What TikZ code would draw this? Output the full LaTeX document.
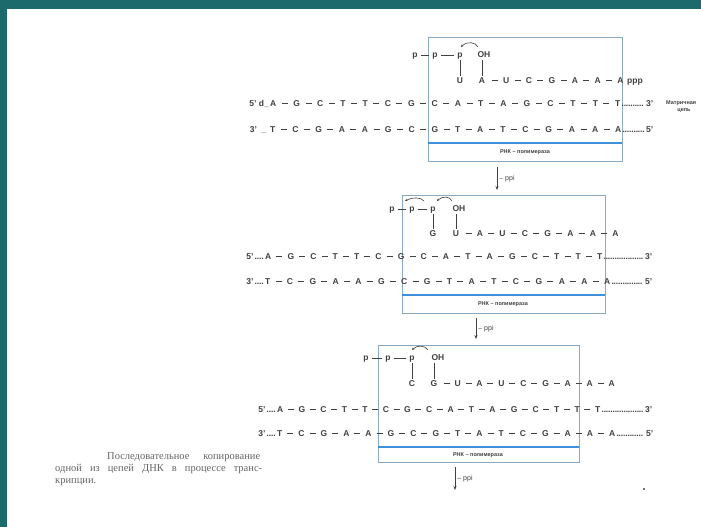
\documentclass[tikz,border=0pt]{standalone}
\usepackage{fontspec}
\setmainfont{Liberation Sans}
\newfontfamily\capfont{Liberation Serif}
\usetikzlibrary{arrows.meta,positioning}

\definecolor{slidebg}{HTML}{1D6A6C}
\definecolor{boxline}{HTML}{8AAAC4}
\definecolor{polblue}{HTML}{3F8FDB}
\definecolor{ink}{HTML}{404040}

% a strand of bases spread over a fixed width
\newcommand{\strand}[2]{\makebox[#1][s]{#2}}
\newcommand{\bd}{\rule[2.7pt]{6pt}{0.75pt}}
\newcommand{\dotrun}[1]{\makebox[#1]{\leaders\hbox to 2.2pt{\hss.\hss}\hfill}}

\tikzset{
  nuc/.style={inner sep=1pt, text height=6.5pt, text depth=1.8pt, font=\fontsize{8.5}{10}\selectfont\bfseries, text=ink},
  strandrow/.style={inner sep=0pt, anchor=base west, font=\fontsize{8.5}{10}\selectfont\bfseries, text=ink},
  polbox/.style={draw=boxline, line width=0.7pt},
  polline/.style={draw=polblue, line width=1.6pt},
  pollabel/.style={inner sep=0pt, font=\fontsize{5.5}{6}\selectfont\bfseries, text=ink},
  bond/.style={draw=ink, line width=0.75pt, shorten <=2.5pt, shorten >=2.5pt},
  hook/.style={-{Stealth[length=2.5pt,width=2.2pt]}, line width=0.6pt, draw=ink},
  ppiarrow/.style={-{Stealth[length=4pt,width=3pt]}, line width=0.8pt, draw=ink},
  ppilabel/.style={inner sep=2pt, font=\fontsize{7}{8}\selectfont, text=ink},
}

\begin{document}
\begin{tikzpicture}[x=1pt, y=-1pt]
    % Slide and page
    \fill[slidebg] (0,0) rectangle (701,527);
    \fill[white] (7,9) rectangle (701,527);
    \useasboundingbox (0,0) rectangle (701,527);

    % ===== Step 1 =====
    \draw[polbox] (428,37) rectangle (622,161);
    \draw[polline] (428,143) -- (622,143);
    \node[pollabel] (lab_s1) at (525,152) {РНК -- полимераза};

    % Triphosphate end
    \node[nuc] (p1_s1) at (415,55) {p};
    \node[nuc] (p2_s1) at (435,55) {p};
    \node[nuc] (p3_s1) at (460,55) {p};
    \node[nuc] (oh_s1) at (484,55) {OH};
    \draw[bond] (p1_s1) -- (p2_s1);
    \draw[bond] (p2_s1) -- (p3_s1);

    % RNA
    \node[nuc] (r1_s1) at (460,81) {U};
    \node[nuc] (r2_s1) at (482,81) {A};
    \node[strandrow] (rna_s1) at (r2_s1.base east) {\strand{137pt}{\ \bd{} U \bd{} C \bd{} G \bd{} A \bd{} A \bd{} A}\rlap{\ \,ppp}};
    \draw[ink, line width=0.7pt] (p3_s1.south) -- (r1_s1.north);
    \draw[ink, line width=0.7pt] (oh_s1.south -| r2_s1.north) -- (r2_s1.north);
    \draw[hook] (478,47) .. controls (476,42) and (466,41) .. (461,47);

    % DNA
    \node[strandrow] (top_s1) at (270,106) {\llap{5' d\_\,}\strand{350pt}{A \bd{} G \bd{} C \bd{} T \bd{} T \bd{} C \bd{} G \bd{} C \bd{} A \bd{} T \bd{} A \bd{} G \bd{} C \bd{} T \bd{} T \bd{} T}\rlap{\,\dotrun{23pt}\,3'}};
    \node[strandrow] (bot_s1) at (270,132) {\llap{3'\ \ \_\ \,}\strand{351pt}{T \bd{} C \bd{} G \bd{} A \bd{} A \bd{} G \bd{} C \bd{} G \bd{} T \bd{} A \bd{} T \bd{} C \bd{} G \bd{} A \bd{} A \bd{} A}\rlap{\,\dotrun{22pt}\,5'}};

    % Template label
    \node[pollabel, anchor=west] (tmpl_a) at (666,103) {Матричная};
    \node[pollabel] (tmpl_b) at (684,111) {цепь};

    % Release of pyrophosphate
    \coordinate (s_s1) at (497,167);
    \coordinate (e_s1) at (497,190);
    \draw[ppiarrow] (s_s1) -- (e_s1) node[midway, right, ppilabel] (ppi_s1) {-- ppi};

    % ===== Step 2 =====
    \draw[polbox] (402,195) rectangle (605,313);
    \draw[polline] (402,295) -- (605,295);
    \node[pollabel] (lab_s2) at (503,304) {РНК -- полимераза};

    \node[nuc] (p1_s2) at (392,209) {p};
    \node[nuc] (p2_s2) at (412,209) {p};
    \node[nuc] (p3_s2) at (433,209) {p};
    \node[nuc] (oh_s2) at (459,209) {OH};
    \draw[bond] (p1_s2) -- (p2_s2);
    \draw[bond] (p2_s2) -- (p3_s2);

    \node[nuc] (r1_s2) at (433,234) {G};
    \node[nuc] (r2_s2) at (456,234) {U};
    \node[strandrow] (rna_s2) at (r2_s2.base east) {\strand{158pt}{\ \bd{} A \bd{} U \bd{} C \bd{} G \bd{} A \bd{} A \bd{} A}};
    \draw[ink, line width=0.7pt] (p3_s2.south) -- (r1_s2.north);
    \draw[ink, line width=0.7pt] (oh_s2.south -| r2_s2.north) -- (r2_s2.north);
    \draw[hook] (424,201) .. controls (421,197) and (412,197) .. (405,201);
    \draw[hook] (452,201) .. controls (450,196) and (442,196) .. (437,201);

    \node[strandrow] (top_s2) at (265,259) {\llap{5'\,\dotrun{9pt}\,}\strand{337pt}{A \bd{} G \bd{} C \bd{} T \bd{} T \bd{} C \bd{} G \bd{} C \bd{} A \bd{} T \bd{} A \bd{} G \bd{} C \bd{} T \bd{} T \bd{} T}\rlap{\,\dotrun{40pt}\,3'}};
    \node[strandrow] (bot_s2) at (265,284) {\llap{3'\,\dotrun{9pt}\,}\strand{345pt}{T \bd{} C \bd{} G \bd{} A \bd{} A \bd{} G \bd{} C \bd{} G \bd{} T \bd{} A \bd{} T \bd{} C \bd{} G \bd{} A \bd{} A \bd{} A}\rlap{\,\dotrun{32pt}\,5'}};

    \coordinate (s_s2) at (476,318);
    \coordinate (e_s2) at (476,339);
    \draw[ppiarrow] (s_s2) -- (e_s2) node[midway, right, ppilabel] (ppi_s2) {-- ppi};

    % ===== Step 3 =====
    \draw[polbox] (378,345) rectangle (579,462);
    \draw[polline] (378,447) -- (579,447);
    \node[pollabel] (lab_s3) at (478,455) {РНК -- полимераза};

    \node[nuc] (p1_s3) at (366,358) {p};
    \node[nuc] (p2_s3) at (388,358) {p};
    \node[nuc] (p3_s3) at (412,358) {p};
    \node[nuc] (oh_s3) at (438,358) {OH};
    \draw[bond] (p1_s3) -- (p2_s3);
    \draw[bond] (p2_s3) -- (p3_s3);

    \node[nuc] (r1_s3) at (412,384) {C};
    \node[nuc] (r2_s3) at (434,384) {G};
    \node[strandrow] (rna_s3) at (r2_s3.base east) {\strand{176pt}{\ \bd{} U \bd{} A \bd{} U \bd{} C \bd{} G \bd{} A \bd{} A \bd{} A}};
    \draw[ink, line width=0.7pt] (p3_s3.south) -- (r1_s3.north);
    \draw[ink, line width=0.7pt] (oh_s3.south -| r2_s3.north) -- (r2_s3.north);
    \draw[hook] (428,350) .. controls (425,345) and (417,345) .. (412,350);

    \node[strandrow] (top_s3) at (277,412) {\llap{5'\,\dotrun{9pt}\,}\strand{323pt}{A \bd{} G \bd{} C \bd{} T \bd{} T \bd{} C \bd{} G \bd{} C \bd{} A \bd{} T \bd{} A \bd{} G \bd{} C \bd{} T \bd{} T \bd{} T}\rlap{\,\dotrun{42pt}\,3'}};
    \node[strandrow] (bot_s3) at (277,436) {\llap{3'\,\dotrun{9pt}\,}\strand{338pt}{T \bd{} C \bd{} G \bd{} A \bd{} A \bd{} G \bd{} C \bd{} G \bd{} T \bd{} A \bd{} T \bd{} C \bd{} G \bd{} A \bd{} A \bd{} A}\rlap{\,\dotrun{28pt}\,5'}};

    \coordinate (s_s3) at (455,467);
    \coordinate (e_s3) at (455,490);
    \draw[ppiarrow] (s_s3) -- (e_s3) node[midway, right, ppilabel] (ppi_s3) {-- ppi};

    % Caption
    \node[anchor=north west, align=left, inner sep=0pt, text=black!60, font=\capfont\fontsize{10.5}{12}\selectfont] (caption) at (55,452)
      {\hspace*{52pt}\makebox[153pt][s]{Последовательное копирование}\\
       \makebox[207pt][s]{одной из цепей ДНК в процессе транс-}\\
       крипции.};

    \fill[ink] (644,489) circle (1.2);
\end{tikzpicture}
\end{document}
